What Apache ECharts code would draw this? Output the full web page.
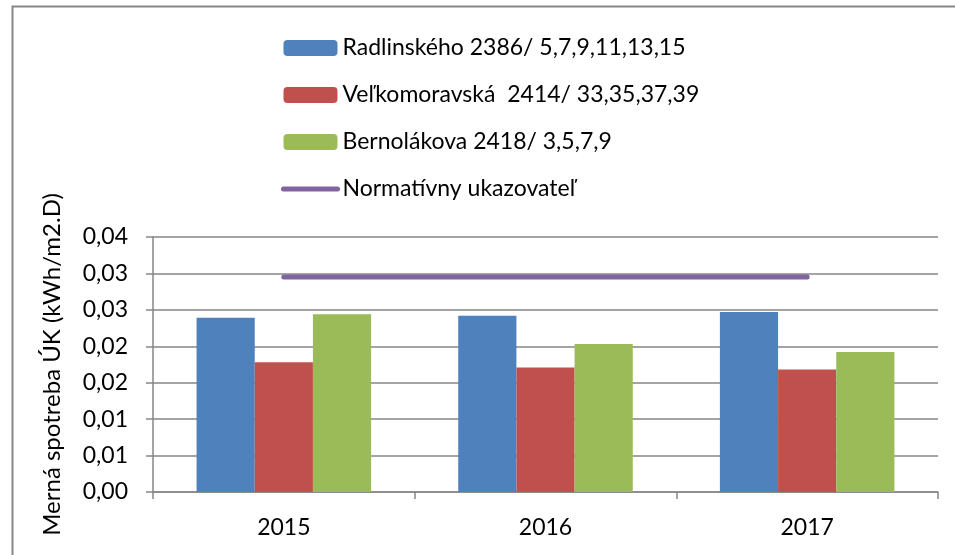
<!DOCTYPE html>
<html>
<head>
<meta charset="utf-8">
<script src="https://cdn.jsdelivr.net/npm/echarts@6/dist/echarts.min.js"></script>
<style>
html,body{margin:0;padding:0;background:#fff;}
#chart{width:955px;height:555px;}
</style>
</head>
<body>
<div id="chart"></div>
<script>
var categories = ['2015', '2016', '2017'];
var radlinskeho = [0.0239, 0.0242, 0.0247];
var velkomoravska = [0.0178, 0.0171, 0.0168];
var bernolakova = [0.0244, 0.0203, 0.0192];
var normativ = [0.0295, 0.0295, 0.0295];
var seriesNames = ['Radlinského 2386/ 5,7,9,11,13,15', 'Veľkomoravská  2414/ 33,35,37,39', 'Bernolákova 2418/ 3,5,7,9', 'Normatívny ukazovateľ'];
var yTickLabels = ['0,00', '0,01', '0,01', '0,02', '0,02', '0,03', '0,03', '0,04'];
var yStep = 0.005;

var FONT = 'Lato';
var chart = echarts.init(document.getElementById('chart'), null, {renderer: 'canvas'});
var axisGray = '#868686';
chart.setOption({
  animation: false,
  backgroundColor: '#fff',
  textStyle: {fontFamily: FONT, color: '#000'},
  graphic: [{
    type: 'rect', left: 10, top: 4, silent: true,
    shape: {x: 0, y: 0, width: 960, height: 570},
    style: {fill: 'none', stroke: axisGray, lineWidth: 2}
  }],
  legend: {
    orient: 'vertical',
    left: 276, top: 31,
    itemWidth: 54, itemHeight: 16,
    itemGap: 23,
    textStyle: {fontFamily: FONT, fontSize: 23, color: '#000', lineHeight: 24},
    data: [
      seriesNames[0], seriesNames[1], seriesNames[2],
      {name: seriesNames[3],
       itemStyle: {color: 'rgba(0,0,0,0)', borderWidth: 0, borderColor: 'rgba(0,0,0,0)'},
       lineStyle: {width: 5, cap: 'round', color: '#8064A2'}}
    ]
  },
  grid: {left: 153, right: 17, top: 237, bottom: 63, containLabel: false},
  xAxis: {
    type: 'category',
    data: categories,
    boundaryGap: true,
    axisLine: {lineStyle: {color: axisGray, width: 1.5}},
    axisTick: {show: true, length: 7, lineStyle: {color: axisGray, width: 1.5}},
    axisLabel: {fontFamily: FONT, fontSize: 23, color: '#000', margin: 24}
  },
  yAxis: {
    type: 'value',
    min: 0, max: 0.035, interval: yStep,
    name: 'Merná spotreba ÚK (kWh/m2.D)',
    nameLocation: 'middle',
    nameGap: 89,
    nameRotate: 90,
    nameTextStyle: {fontFamily: FONT, fontSize: 24, color: '#000'},
    axisLine: {show: true, lineStyle: {color: axisGray, width: 1.5}},
    axisTick: {show: true, length: 7, lineStyle: {color: axisGray, width: 1.5}},
    splitLine: {show: true, lineStyle: {color: axisGray, width: 1.5}},
    axisLabel: {
      fontFamily: FONT, fontSize: 23, color: '#000', margin: 25,
      formatter: function (v) { return yTickLabels[Math.round(v / yStep)]; }
    }
  },
  series: [
    {name: seriesNames[0], type: 'bar', data: radlinskeho, barGap: '0%', barCategoryGap: '33.3%',
     itemStyle: {color: '#4F81BD'}},
    {name: seriesNames[1], type: 'bar', data: velkomoravska, barGap: '0%', barCategoryGap: '33.3%',
     itemStyle: {color: '#C0504D'}},
    {name: seriesNames[2], type: 'bar', data: bernolakova, barGap: '0%', barCategoryGap: '33.3%',
     itemStyle: {color: '#9BBB59'}},
    {name: seriesNames[3], type: 'line', data: normativ, symbol: 'none', showSymbol: false,
     itemStyle: {color: '#8064A2'},
     lineStyle: {color: '#8064A2', width: 5, cap: 'round'}}
  ]
});
</script>
</body>
</html>
